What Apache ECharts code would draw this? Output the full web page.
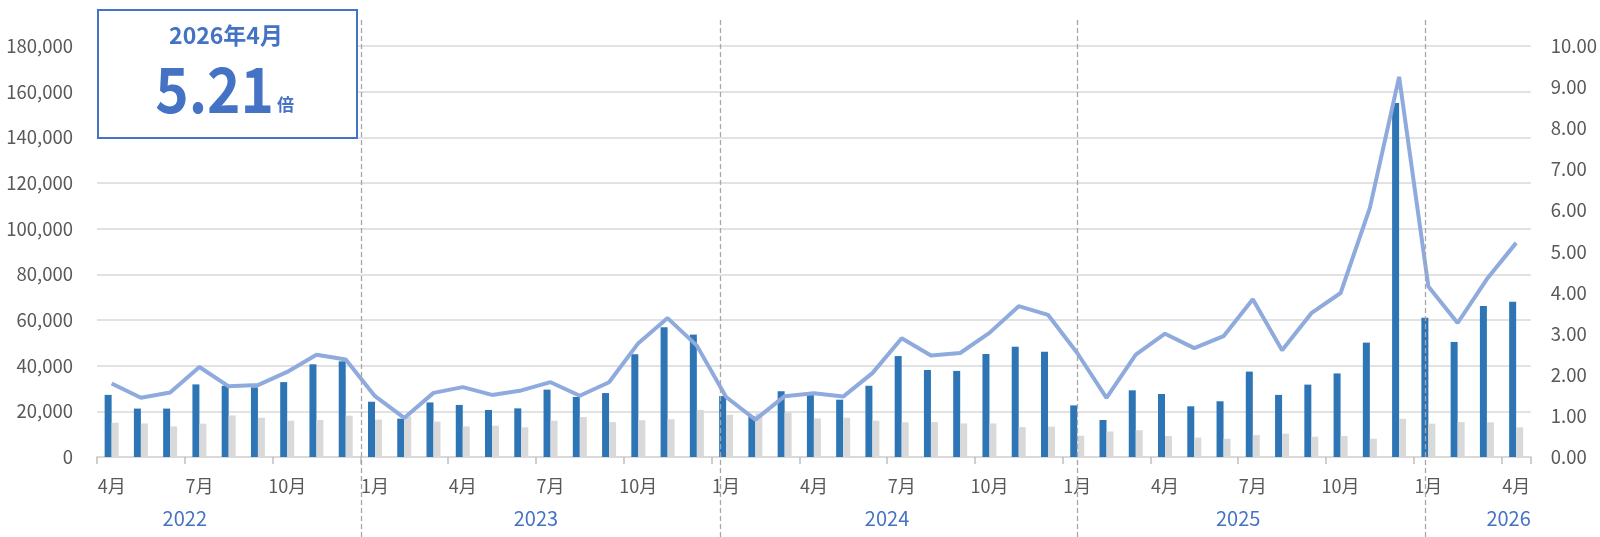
<!DOCTYPE html>
<html>
<head>
<meta charset="utf-8">
<script src="https://cdn.jsdelivr.net/npm/echarts@6/dist/echarts.min.js"></script>
<style>
html,body{margin:0;padding:0;background:#fff;}
#chart{width:1600px;height:537px;}
</style>
</head>
<body>
<div id="chart"></div>
<script>
// ---- data ----
const categories = [
  '2022/4','2022/5','2022/6','2022/7','2022/8','2022/9','2022/10','2022/11','2022/12',
  '2023/1','2023/2','2023/3','2023/4','2023/5','2023/6','2023/7','2023/8','2023/9','2023/10','2023/11','2023/12',
  '2024/1','2024/2','2024/3','2024/4','2024/5','2024/6','2024/7','2024/8','2024/9','2024/10','2024/11','2024/12',
  '2025/1','2025/2','2025/3','2025/4','2025/5','2025/6','2025/7','2025/8','2025/9','2025/10','2025/11','2025/12',
  '2026/1','2026/2','2026/3','2026/4'
];
const darkBars = [
  27200,21200,21200,31800,31200,30500,32800,40600,41900,
  24200,16800,23900,22800,20600,21300,29500,26300,28000,45000,56800,53600,
  26700,17800,28800,27200,25100,31200,44200,38100,37700,45100,48300,46100,
  22600,16200,29200,27600,22200,24400,37400,27200,31700,36600,50100,155000,
  61000,50400,66100,68000
];
const lightBars = [
  15000,14700,13400,14600,18200,17200,15900,16200,18100,
  16400,17800,15500,13400,13700,13000,15900,17500,15300,16100,16500,20600,
  18500,19100,19400,16900,17200,15900,15200,15300,14700,14700,13100,13300,
  9300,11200,11700,9200,8500,8000,9600,10200,8900,9200,8000,16700,
  14600,15300,15200,13000
];
const ratioLine = [
  1.79,1.44,1.57,2.19,1.72,1.75,2.07,2.49,2.37,
  1.48,0.95,1.56,1.70,1.51,1.62,1.82,1.49,1.82,2.77,3.38,2.71,
  1.46,0.91,1.48,1.55,1.47,2.04,2.89,2.47,2.53,3.02,3.67,3.46,
  2.53,1.44,2.49,3.00,2.65,2.94,3.84,2.60,3.50,3.99,6.06,9.25,
  4.15,3.26,4.33,5.21
];
const leftTicks = [0,20000,40000,60000,80000,100000,120000,140000,160000,180000];
const rightTicks = [0,1,2,3,4,5,6,7,8,9,10];

// ---- derived helpers ----
const ym = categories.map(c => c.split('/').map(Number));
const n = categories.length;
const years = [];
const yearCenters = [];
const boundaries = [];
ym.forEach(([y, m], i) => {
  if (!years.includes(y)) {
    years.push(y);
    const janIdx = i - (m - 1);
    yearCenters.push(Math.min(janIdx + 6, n));
    if (i > 0) boundaries.push(i);
  }
});
// the year separators in the source are hand-placed slightly right of the exact boundary
const separatorShift = [0, 0.23, 0.4, 0.27];
const last = ym[n - 1];
const titleText = last[0] + '年' + last[1] + '月';
const valueText = ratioLine[n - 1].toFixed(2);

const FONT = '"Noto Sans CJK JP", "Noto Sans", sans-serif';
const GREY_TXT = '#595959';
const BLUE_TXT = '#4472C4';
const GRID = {left: 97, right: 65, top: 46, bottom: 80};

const chart = echarts.init(document.getElementById('chart'));
chart.setOption({
  animation: false,
  textStyle: {fontFamily: FONT},
  grid: [
    {left: GRID.left, right: GRID.right, top: GRID.top, bottom: GRID.bottom},
    {left: GRID.left, right: GRID.right, top: 20, bottom: 0}
  ],
  xAxis: [
    {
      type: 'category', gridIndex: 0, data: categories, boundaryGap: true,
      axisLine: {lineStyle: {color: '#D9D9D9', width: 2}},
      axisTick: {show: true, length: 7, lineStyle: {color: '#BFBFBF', width: 1.5},
        interval: (i) => i % 3 === 0},
      axisLabel: {
        interval: (i) => [1,4,7,10].includes(ym[i][1]),
        formatter: (v) => Number(v.split('/')[1]) + '月',
        color: GREY_TXT, fontSize: 18, margin: 20, fontFamily: FONT
      },
      splitLine: {show: false}
    },
    {
      type: 'value', gridIndex: 0, min: 0, max: n, position: 'bottom',
      axisLine: {show: false}, axisTick: {show: false}, splitLine: {show: false},
      axisLabel: {
        customValues: yearCenters,
        formatter: (v) => String(years[yearCenters.indexOf(v)]),
        color: BLUE_TXT, fontSize: 20, margin: 51, fontFamily: FONT,
        alignMaxLabel: 'right'
      }
    },
    {type: 'value', gridIndex: 1, min: 0, max: n, show: false}
  ],
  yAxis: [
    {
      type: 'value', gridIndex: 0, min: leftTicks[0], max: leftTicks[leftTicks.length-1],
      interval: leftTicks[1] - leftTicks[0],
      axisLine: {show: false}, axisTick: {show: false},
      axisLabel: {color: GREY_TXT, fontSize: 18.5, margin: 24, fontFamily: FONT,
        formatter: (v) => v.toLocaleString('en-US')},
      splitLine: {lineStyle: {color: '#D9D9D9', width: 1.5}}
    },
    {
      type: 'value', gridIndex: 0, min: rightTicks[0], max: rightTicks[rightTicks.length-1],
      interval: rightTicks[1] - rightTicks[0], position: 'right',
      axisLine: {show: false}, axisTick: {show: false},
      axisLabel: {color: GREY_TXT, fontSize: 18.5, margin: 20, fontFamily: FONT,
        formatter: (v) => v.toFixed(2)},
      splitLine: {show: false}
    },
    {type: 'value', gridIndex: 1, min: 0, max: 1, show: false}
  ],
  series: [
    {
      type: 'bar', xAxisIndex: 0, yAxisIndex: 0, data: darkBars,
      barWidth: 7, barGap: '0%', itemStyle: {color: '#2E75B6'}, z: 2
    },
    {
      type: 'bar', xAxisIndex: 0, yAxisIndex: 0, data: lightBars,
      barWidth: 7, barGap: '0%', itemStyle: {color: '#D9D9D9'}, z: 2
    },
    {
      type: 'line', xAxisIndex: 0, yAxisIndex: 1, data: ratioLine,
      symbol: 'none', lineStyle: {color: '#8FAADC', width: 4}, z: 4
    },
    {
      type: 'line', xAxisIndex: 2, yAxisIndex: 2, data: [],
      symbol: 'none', silent: true,
      markLine: {
        silent: true, symbol: 'none', label: {show: false},
        lineStyle: {color: '#A6A6A6', type: [5, 3], width: 1.3},
        data: boundaries.map((b, k) => ({xAxis: b + (separatorShift[k] || 0)}))
      },
      z: 3
    }
  ],
  graphic: [
    {
      type: 'rect', left: 97, top: 9, z: 10,
      shape: {width: 259, height: 128},
      style: {fill: '#fff', stroke: '#4472C4', lineWidth: 2}
    },
    {
      type: 'text', x: 226, y: 35, z: 11,
      style: {text: titleText, fill: BLUE_TXT, font: 'bold 23px ' + FONT,
        align: 'center', verticalAlign: 'middle'}
    },
    {
      type: 'text', x: 274, y: 89, z: 11, scaleX: 0.9,
      style: {text: valueText, fill: BLUE_TXT, font: 'bold 63px ' + FONT,
        align: 'right', verticalAlign: 'middle'}
    },
    {
      type: 'text', x: 277, y: 105, z: 11,
      style: {text: '倍', fill: BLUE_TXT, font: 'bold 17px ' + FONT,
        align: 'left', verticalAlign: 'middle'}
    }
  ]
});
</script>
</body>
</html>
